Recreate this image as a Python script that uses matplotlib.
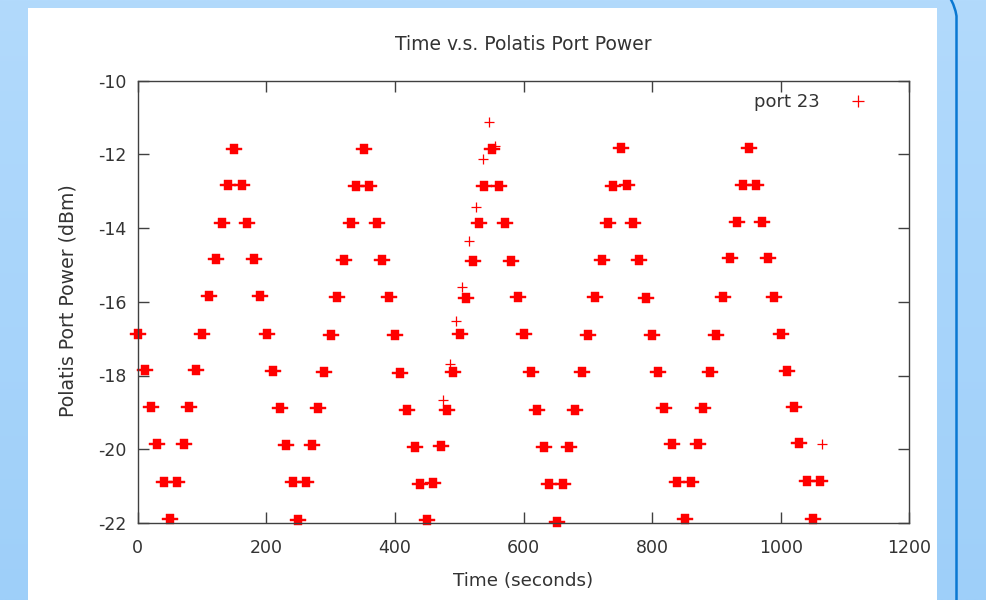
import numpy as np
import matplotlib
matplotlib.use("Agg")
import matplotlib.pyplot as plt
from matplotlib.path import Path
from matplotlib.patches import Rectangle, PathPatch
from matplotlib.lines import Line2D

# ---------------- data ----------------
title = "Time v.s. Polatis Port Power"
x_label = "Time (seconds)"
y_label = "Polatis Port Power (dBm)"
series_label = "port 23"

x_ticks = [0, 200, 400, 600, 800, 1000, 1200]
y_ticks = [-22, -20, -18, -16, -14, -12, -10]

# clusters of repeated samples (dense blobs)
blob_time = [1, 11, 20, 30.5, 41, 51, 60.6, 71.5, 79.8, 90.7, 100.5, 110.9, 121.3,
             130.6, 140, 150.3, 161.7, 170.5, 181.4, 190.7, 201.6, 210, 221.3,
             230.2, 241, 249.8, 261.3, 270.6, 280, 289.7, 300.6, 310.4, 320.9,
             331.3, 339, 351.5, 360.2, 371.7, 380, 390.9, 400, 408.5, 419.3,
             431.3, 439, 450.4, 459.8, 471.2, 481, 490.8, 501.2, 510.6, 521,
             530.8, 539, 550.5, 562.4, 571.2, 580.6, 592, 600.8, 611.7, 620.5,
             631.4, 640.2, 651.6, 661, 671.2, 680, 691.5, 699.8, 711.2, 721.6,
             730.9, 739.7, 751.2, 760.5, 770.8, 780.1, 790, 800.3, 809.6, 819,
             830.5, 839.2, 851.2, 860.5, 870.9, 879.6, 890, 899.4, 910.7, 921.2,
             931.6, 940.9, 950.2, 961.6, 970.4, 980.7, 989.6, 1000.5, 1009.8,
             1020.7, 1028.9, 1040.4, 1049.8, 1061.1]
blob_power = [-16.87, -17.86, -18.86, -19.87, -20.88, -21.89, -20.88, -19.87, -18.86,
              -17.86, -16.87, -15.85, -14.83, -13.86, -12.83, -11.85, -12.83, -13.86,
              -14.83, -15.85, -16.87, -17.88, -18.88, -19.88, -20.88, -21.91, -20.88,
              -19.88, -18.88, -17.90, -16.90, -15.87, -14.86, -13.86, -12.86, -11.87,
              -12.86, -13.86, -14.86, -15.87, -16.90, -17.93, -18.94, -19.93, -20.93,
              -21.93, -20.92, -19.90, -18.93, -17.91, -16.88, -15.89, -14.89, -13.86,
              -12.85, -11.86, -12.85, -13.87, -14.89, -15.88, -16.88, -17.91, -18.93,
              -19.93, -20.93, -21.96, -20.93, -19.94, -18.93, -17.91, -16.90, -15.88,
              -14.88, -13.86, -12.85, -11.84, -12.84, -13.86, -14.88, -15.89, -16.90,
              -17.91, -18.87, -19.86, -20.88, -21.89, -20.88, -19.87, -18.87, -17.90,
              -16.90, -15.86, -14.82, -13.83, -12.83, -11.82, -12.83, -13.83, -14.82,
              -15.86, -16.87, -17.88, -18.86, -19.84, -20.86, -21.89, -20.86]

# isolated single samples
single_time = [475, 485.7, 495, 505, 515, 526, 536.5, 546, 556, 1065]
single_power = [-18.67, -17.70, -16.53, -15.60, -14.35, -13.44, -12.13, -11.13, -11.77, -19.86]

# ---------------- figure ----------------
W, H = 986, 600
fig = plt.figure(figsize=(W / 100, H / 100), dpi=100)

# background gradient
bg = fig.add_axes([0, 0, 1, 1], zorder=-10)
bg.set_axis_off()
top_c = np.array([178, 218, 252]) / 255
bot_c = np.array([158, 207, 249]) / 255
t = np.linspace(0, 1, 256)[:, None, None]
grad = top_c * (1 - t) + bot_c * t
bg.imshow(np.repeat(grad, 2, axis=1), aspect="auto", extent=[0, W, H, 0])
bg.set_xlim(0, W)
bg.set_ylim(H, 0)
# white panel
bg.add_patch(Rectangle((28, 8), 937 - 28, H - 8, facecolor="white", edgecolor="none"))
# blue rounded border line on the right
verts = [(950, -2), (955, 6), (956.5, 16), (956.5, 30), (956.5, H + 2)]
codes = [Path.MOVETO, Path.CURVE3, Path.CURVE3, Path.LINETO, Path.LINETO]
bg.add_patch(PathPatch(Path(verts, codes), facecolor="none", edgecolor="#0a78d2", lw=1.8))

# main axes
L, R, T, B = 137.7, 909.3, 80.5, 523.0
ax = fig.add_axes([L / W, 1 - B / H, (R - L) / W, (B - T) / H])
ax.set_facecolor("none")

# blob marker: filled core with horizontal arms
bv = [(-8, -1.5), (-4, -1.5), (-4, -5), (4, -5), (4, -1.5), (8, -1.5), (8, 1.5),
      (4, 1.5), (4, 5), (-4, 5), (-4, 1.5), (-8, 1.5), (-8, -1.5)]
bc = [Path.MOVETO] + [Path.LINETO] * 11 + [Path.CLOSEPOLY]
blob_marker = Path(bv, bc)

ax.plot(blob_time, blob_power, linestyle="none", marker=blob_marker,
        markersize=11.5, markerfacecolor="#ff0000", markeredgecolor="#ff0000",
        markeredgewidth=0.3, clip_on=False)
ax.plot(single_time, single_power, linestyle="none", marker="+", markersize=7.2,
        markeredgewidth=0.9, color="#ff0000", clip_on=False)

ax.set_xlim(0, 1200)
ax.set_ylim(-22, -10)
ax.set_xticks(x_ticks)
ax.set_yticks(y_ticks)
ax.set_xticklabels([str(v) for v in x_ticks])
ax.set_yticklabels([str(v) for v in y_ticks])

txt_c = "#333333"
ax.tick_params(direction="in", length=7.7, width=1.0, color="#404040",
               top=True, right=True, labelsize=12.5, labelcolor=txt_c)
ax.tick_params(axis="x", pad=11.5)
ax.tick_params(axis="y", pad=8)
for s in ax.spines.values():
    s.set_color("#404040")
    s.set_linewidth(1.0)

handle = Line2D([], [], linestyle="none", marker="+", markersize=8,
                markeredgewidth=0.9, color="#ff0000")
leg = ax.legend([handle], [series_label], loc="center right",
                bbox_to_anchor=(0.955, 0.951), frameon=False, markerfirst=False,
                borderaxespad=0, borderpad=0, handletextpad=1.2, handlelength=1.85,
                fontsize=13)
for tx in leg.get_texts():
    tx.set_color(txt_c)

fig.text(523.5 / W, 1 - 44 / H, title, ha="center", va="center", fontsize=13.5, color=txt_c)
fig.text(523 / W, 1 - 581 / H, x_label, ha="center", va="center", fontsize=13.2, color=txt_c)
fig.text(68 / W, 1 - 301 / H, y_label, ha="center", va="center", rotation=90,
         fontsize=13.6, color=txt_c)

fig.savefig("out.png", dpi=100)
